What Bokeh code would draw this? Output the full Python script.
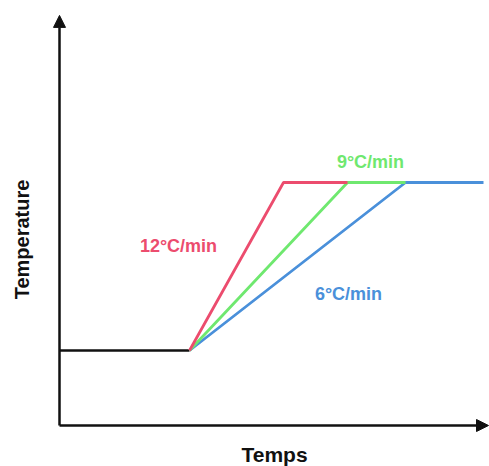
import math
from bokeh.plotting import figure
from bokeh.models import Range1d, Arrow, NormalHead, Label
from bokeh.embed import file_html
from bokeh.resources import INLINE

# Data (time in arbitrary minutes, temperature in arbitrary °C)
hold_time = [0, 13]
hold_temp = [25, 25]

series_names = ["12°C/min", "9°C/min", "6°C/min"]
series_colors = ["#EC4C6E", "#6FE86F", "#4A90DA"]
series_times = [
    [13, 22.4, 28.8],
    [13, 28.8, 34.6],
    [13, 34.6, 42.4],
]
series_temps = [
    [25, 81, 81],
    [25, 81, 81],
    [25, 81, 81],
]

W, H = 489, 466
p = figure(width=W, height=H, output_backend="svg", toolbar_location=None,
           x_range=Range1d(-5.9, 43), y_range=Range1d(-41 / 3, 425 / 3),
           min_border_left=0, min_border_right=0, min_border_top=0, min_border_bottom=0)
p.axis.visible = False
p.grid.visible = False
p.outline_line_color = None
p.background_fill_color = "white"

# Axes with arrows
p.add_layout(Arrow(x_start=0, y_start=0, x_end=42.9, y_end=0, line_width=2.5, line_color="#111111",
                   end=NormalHead(size=12, fill_color="#111111", line_color="#111111")))
p.add_layout(Arrow(x_start=0, y_start=0, x_end=0, y_end=136.7, line_width=2.5, line_color="#111111",
                   end=NormalHead(size=12, fill_color="#111111", line_color="#111111")))

# Hold segment
p.line(hold_time, hold_temp, line_color="#111111", line_width=2.5)

# Ramps (draw blue first, red last)
for t, T, c in reversed(list(zip(series_times, series_temps, series_colors))):
    p.line(t, T, line_color=c, line_width=2.8)

label_pos = {"12°C/min": (11.9, 59.7), "9°C/min": (31.1, 88), "6°C/min": (28.9, 43.7)}
for name, c in zip(series_names, series_colors):
    x, y = label_pos[name]
    p.add_layout(Label(x=x, y=y, text=name, text_color=c, text_font="Liberation Sans",
                       text_font_style="bold", text_font_size="18px",
                       text_align="center", text_baseline="middle"))

# Axis titles
p.add_layout(Label(x=21, y=H - 239, x_units="screen", y_units="screen", text="Temperature",
                   angle=math.pi / 2, text_font="Liberation Sans", text_font_style="bold",
                   text_font_size="20px", text_color="#111111",
                   text_align="center", text_baseline="middle"))
p.add_layout(Label(x=274, y=H - 454, x_units="screen", y_units="screen", text="Temps",
                   text_font="Liberation Sans", text_font_style="bold",
                   text_font_size="21px", text_color="#111111",
                   text_align="center", text_baseline="middle"))

open("out.html", "w").write(file_html(p, INLINE))
